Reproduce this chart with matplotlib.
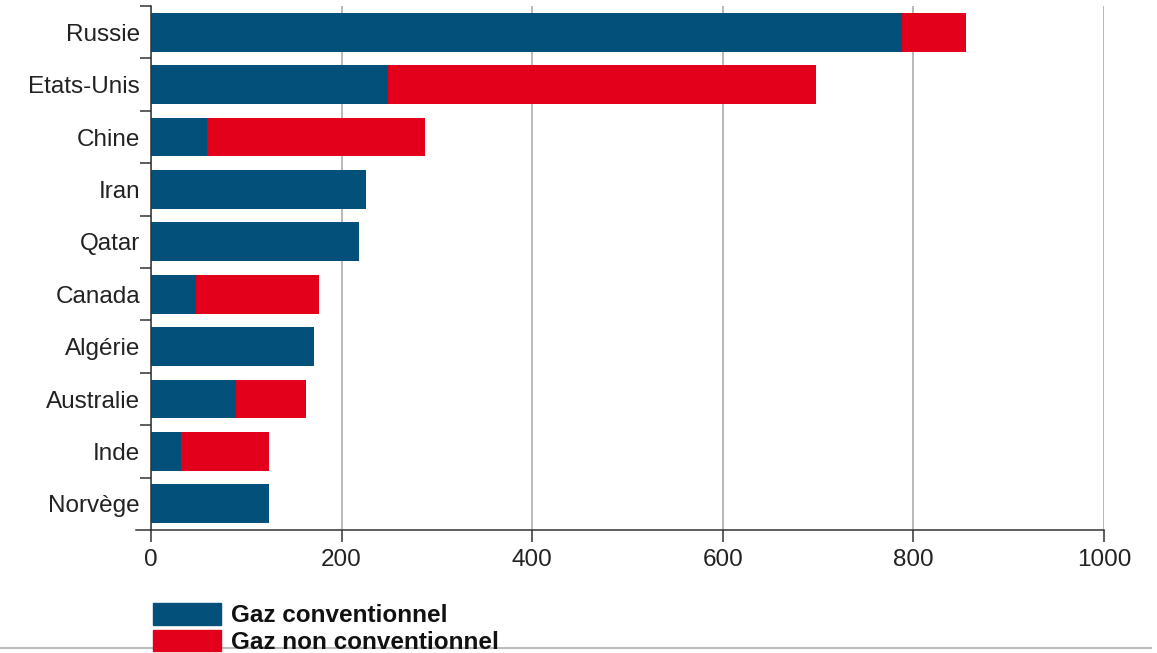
import matplotlib
matplotlib.use("Agg")
import matplotlib.pyplot as plt
import matplotlib.patches as mpatches
from matplotlib.lines import Line2D
import numpy as np

plt.rcParams["font.family"] = ["Liberation Sans", "DejaVu Sans"]

# Gas reserves by country (conventional / non-conventional)
countries = ["Russie", "Etats-Unis", "Chine", "Iran", "Qatar",
             "Canada", "Algérie", "Australie", "Inde", "Norvège"]
conventionnel = [788, 249, 59, 226, 218, 47, 171, 89, 32, 124]
non_conventionnel = [67, 449, 228, 0, 0, 129, 0, 74, 92, 0]
xticks = [0, 200, 400, 600, 800, 1000]

BLUE = "#03517A"
RED = "#E2001A"
TEXT = "#222222"
AXIS = "#333333"

fig = plt.figure(figsize=(11.57, 6.53), dpi=100)
ax = fig.add_axes([151 / 1157, 1 - 530 / 653, (1104 - 151) / 1157, 524 / 653])

y = np.arange(len(countries))
ax.barh(y, conventionnel, height=0.74, color=BLUE, edgecolor="none", zorder=2)
ax.barh(y, non_conventionnel, left=conventionnel, height=0.74, color=RED,
        edgecolor="none", zorder=2)

ax.set_xlim(0, 1000)
ax.set_ylim(len(countries) - 0.5, -0.5)

ax.set_xticks(xticks)
ax.set_xticklabels([str(v) for v in xticks])
ax.set_yticks(y)
ax.set_yticklabels(countries)
# small ticks on the left spine mark the boundary between countries
ax.set_yticks(np.arange(len(countries)) - 0.5, minor=True)

ax.tick_params(axis="x", direction="out", length=8.6, width=1.1, color=AXIS,
               labelsize=17.5, labelcolor=TEXT, pad=5)
ax.tick_params(axis="y", which="major", length=0, labelsize=17.5,
               labelcolor=TEXT, pad=8)
ax.tick_params(axis="y", which="minor", direction="out", length=7.9,
               width=1.1, color=AXIS)

ax.grid(axis="x", color="#A6A6A6", linewidth=1.1, zorder=0)
ax.set_axisbelow(True)

for side in ["top", "right"]:
    ax.spines[side].set_visible(False)
for side in ["left", "bottom"]:
    ax.spines[side].set_color(AXIS)
    ax.spines[side].set_linewidth(1.1)

# bottom axis line runs a little past the left spine
ax.add_line(Line2D([-0.016, 0], [0, 0], transform=ax.transAxes, color=AXIS,
                   linewidth=1.1, clip_on=False))

handles = [mpatches.Patch(color=BLUE, label="Gaz conventionnel"),
           mpatches.Patch(color=RED, label="Gaz non conventionnel")]
fig.legend(handles=handles, loc="upper left",
           bbox_to_anchor=(153 / 1157, 1 - 603 / 653),
           frameon=False, borderpad=0, borderaxespad=0,
           handlelength=2.8, handleheight=1.0, handletextpad=0.4,
           labelspacing=0.1,
           prop={"size": 17.5, "weight": "bold"}, labelcolor="#111111")

# thin rule along the bottom edge
fig.add_artist(Line2D([0, 0.995], [1 - 648 / 653] * 2, transform=fig.transFigure,
                      color="#BBBBBB", linewidth=1.5))

fig.savefig("out.png", dpi=100, facecolor="white")
